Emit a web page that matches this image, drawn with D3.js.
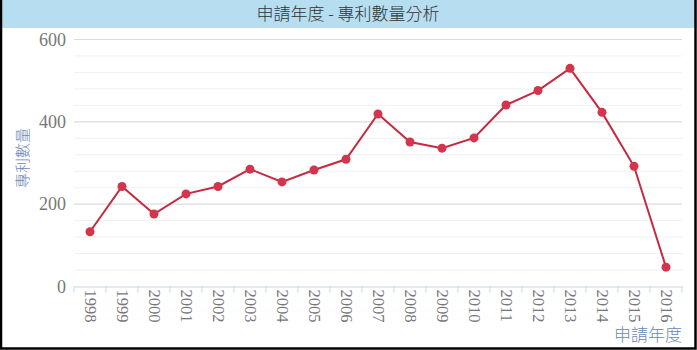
<!DOCTYPE html>
<html><head><meta charset="utf-8">
<script src="https://cdn.jsdelivr.net/npm/d3@7"></script>
<style>html,body{margin:0;padding:0;background:#fff;}svg{display:block;}</style>
</head><body>
<script>
const years = ["1998","1999","2000","2001","2002","2003","2004","2005","2006","2007","2008","2009","2010","2011","2012","2013","2014","2015","2016"];
const counts = [133,243,176,225,243,285,254,283,309,419,351,336,361,441,476,530,423,292,47];
const yMajorTicks = [0,200,400,600];
const yMinorTicks = [40,80,120,160,240,280,320,360,440,480,520,560];
const titleText = "申請年度 - 專利數量分析";
const yTitle = "專利數量";
const xTitle = "申請年度";

const W = 697, H = 350;
const svg = d3.select("body").append("svg").attr("width", W).attr("height", H);

// title bar
svg.append("rect").attr("x",0).attr("y",0).attr("width",W).attr("height",28).attr("fill","#b6def0");
svg.append("text").attr("x",348).attr("y",20).attr("text-anchor","middle")
  .attr("font-family","'Noto Sans CJK TC', sans-serif").attr("font-weight",300).attr("font-size",17).attr("fill","#333")
  .text(titleText);

const pLeft = 74, pRight = 682, pTop = 39.5, pBottom = 286.5;
const x = d3.scaleBand().domain(years).range([pLeft, pRight]);
const y = d3.scaleLinear().domain([0,600]).range([pBottom, pTop]);

// gridlines
svg.append("g").selectAll("line").data(yMinorTicks).join("line")
  .attr("x1",pLeft).attr("x2",pRight).attr("y1",d=>y(d)).attr("y2",d=>y(d))
  .attr("stroke","#f1f1f1").attr("stroke-width",1);
svg.append("g").selectAll("line").data(yMajorTicks.filter(d=>d>0)).join("line")
  .attr("x1",pLeft).attr("x2",pRight).attr("y1",d=>y(d)).attr("y2",d=>y(d))
  .attr("stroke","#dcdcdc").attr("stroke-width",1.2);

// y axis labels
const yAxis = d3.axisLeft(y).tickValues(yMajorTicks).tickSize(0).tickPadding(8);
const gy = svg.append("g").attr("transform",`translate(${pLeft},0)`).call(yAxis);
gy.select(".domain").remove();
gy.selectAll("text").attr("font-family","'Liberation Serif', serif").attr("font-size",18).attr("fill","#777");

// x axis
const gx = svg.append("g").attr("transform",`translate(0,${pBottom})`)
  .call(d3.axisBottom(x).tickSize(0).tickPadding(6));
gx.select(".domain").attr("stroke","#c9d5ea").attr("stroke-width",1.2);
gx.selectAll("text").attr("font-family","'Liberation Serif', serif").attr("font-size",16.5).attr("fill","#777")
  .attr("transform","rotate(90)").attr("text-anchor","start").attr("dx",0).attr("dy","0.33em").attr("x",3).attr("y",0);
// boundary ticks
const bounds = years.map(d=>x(d)).concat([pRight]);
svg.append("g").selectAll("line").data(bounds).join("line")
  .attr("x1",d=>d).attr("x2",d=>d).attr("y1",pBottom).attr("y2",pBottom+6)
  .attr("stroke","#c9d5ea").attr("stroke-width",1);

// axis titles
svg.append("text").attr("transform",`translate(28,158) rotate(-90)`).attr("text-anchor","middle")
  .attr("font-family","'Noto Sans CJK TC', sans-serif").attr("font-weight",300).attr("font-size",15).attr("fill","#6a88b3").text(yTitle);
svg.append("text").attr("x",682).attr("y",341).attr("text-anchor","end")
  .attr("font-family","'Noto Sans CJK TC', sans-serif").attr("font-weight",300).attr("font-size",17).attr("fill","#6a88b3").text(xTitle);

// line
const cx = d => x(d) + x.bandwidth()/2;
const line = d3.line().x((d,i)=>cx(years[i])).y(d=>y(d));
svg.append("path").datum(counts).attr("d",line).attr("fill","none")
  .attr("stroke","#c42a40").attr("stroke-width",2);
svg.append("g").selectAll("circle").data(counts).join("circle")
  .attr("cx",(d,i)=>cx(years[i])).attr("cy",d=>y(d)).attr("r",4.5)
  .attr("fill","#d5344d");

// border
svg.append("rect").attr("x",1).attr("y",-2).attr("width",W-2.5).attr("height",H+0.5)
  .attr("fill","none").attr("stroke","#000").attr("stroke-width",2.5);
</script>
</body></html>
